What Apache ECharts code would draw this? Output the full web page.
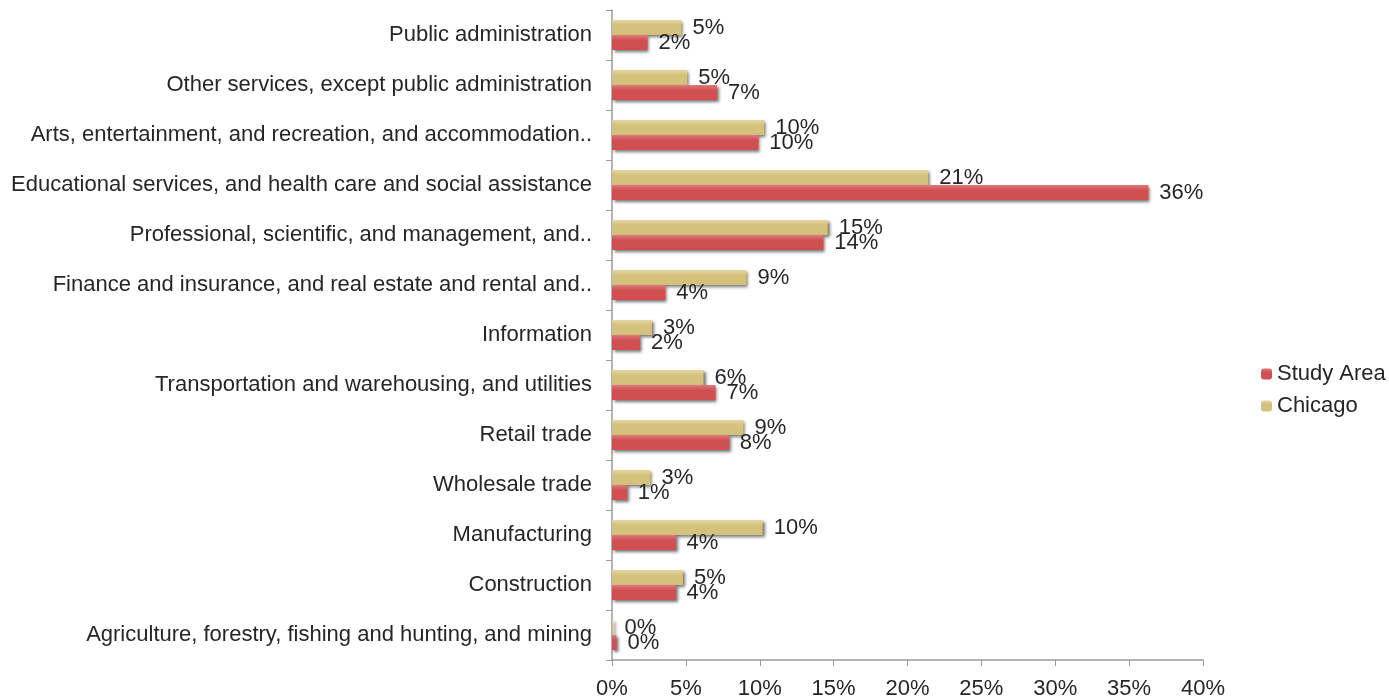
<!DOCTYPE html>
<html>
<head>
<meta charset="utf-8">
<script src="https://cdn.jsdelivr.net/npm/echarts@6/dist/echarts.min.js"></script>
<style>
  html, body { margin: 0; padding: 0; background: #fff; }
  #chart { width: 1389px; height: 700px; }
</style>
</head>
<body>
<div id="chart"></div>
<script>
// bottom to top, as the category axis draws them
const industries = [
  'Agriculture, forestry, fishing and hunting, and mining',
  'Construction',
  'Manufacturing',
  'Wholesale trade',
  'Retail trade',
  'Transportation and warehousing, and utilities',
  'Information',
  'Finance and insurance, and real estate and rental and..',
  'Professional, scientific, and management, and..',
  'Educational services, and health care and social assistance',
  'Arts, entertainment, and recreation, and accommodation..',
  'Other services, except public administration',
  'Public administration'
];
const studyArea = [0.3, 4.3, 4.3, 1.0, 7.9, 7.0, 1.9, 3.6, 14.3, 36.3, 9.9, 7.1, 2.4];
const chicago = [0.1, 4.8, 10.2, 2.6, 8.9, 6.2, 2.7, 9.1, 14.6, 21.4, 10.3, 5.1, 4.7];
const xTicks = [0, 5, 10, 15, 20, 25, 30, 35, 40];

const red = '#D05052';
const tan = '#D4C17B';
const font = 'Liberation Sans, Arial, sans-serif';
const textColor = '#262626';

const chart = echarts.init(document.getElementById('chart'));

function barStyle(base, light) {
  return {
    color: new echarts.graphic.LinearGradient(0, 0, 0, 1, [
      { offset: 0, color: light },
      { offset: 0.35, color: base },
      { offset: 1, color: base }
    ]),
    shadowColor: 'rgba(0,0,0,0.55)',
    shadowBlur: 3,
    shadowOffsetX: 2,
    shadowOffsetY: 2
  };
}

const pctLabel = {
  show: true,
  position: 'right',
  distance: 11,
  color: textColor,
  fontFamily: font,
  fontSize: 22,
  formatter: p => Math.round(p.value) + '%'
};

chart.setOption({
  animation: false,
  textStyle: { fontFamily: font },
  grid: { left: 612, right: 186, top: 10, bottom: 38 },
  legend: {
    orient: 'vertical',
    left: 1256,
    top: 358,
    itemWidth: 11,
    itemHeight: 11,
    itemGap: 10,
    data: ['Study Area', 'Chicago'],
    textStyle: { fontSize: 22, color: textColor, fontFamily: font }
  },
  xAxis: {
    type: 'value',
    min: xTicks[0],
    max: xTicks[xTicks.length - 1],
    interval: 5,
    splitLine: { show: false },
    axisLine: { show: true, lineStyle: { color: '#9a9a9a', width: 1.5 } },
    axisTick: { show: true, length: 6, lineStyle: { color: '#9a9a9a' } },
    axisLabel: {
      color: textColor,
      fontSize: 22,
      fontFamily: font,
      margin: 18,
      formatter: v => v + '%'
    }
  },
  yAxis: {
    type: 'category',
    data: industries,
    axisLine: { lineStyle: { color: '#9a9a9a', width: 1.5 } },
    axisTick: { show: true, length: 6, lineStyle: { color: '#9a9a9a' } },
    axisLabel: { color: textColor, fontSize: 22, fontFamily: font, margin: 20 }
  },
  series: [
    {
      name: 'Chicago',
      type: 'bar',
      data: chicago,
      barGap: '0%',
      barCategoryGap: '40%',
      itemStyle: barStyle(tan, '#E4D6A4'),
      label: pctLabel
    },
    {
      name: 'Study Area',
      type: 'bar',
      data: studyArea,
      barGap: '0%',
      barCategoryGap: '40%',
      itemStyle: barStyle(red, '#DE7A7B'),
      label: pctLabel
    }
  ]
});
</script>
</body>
</html>
